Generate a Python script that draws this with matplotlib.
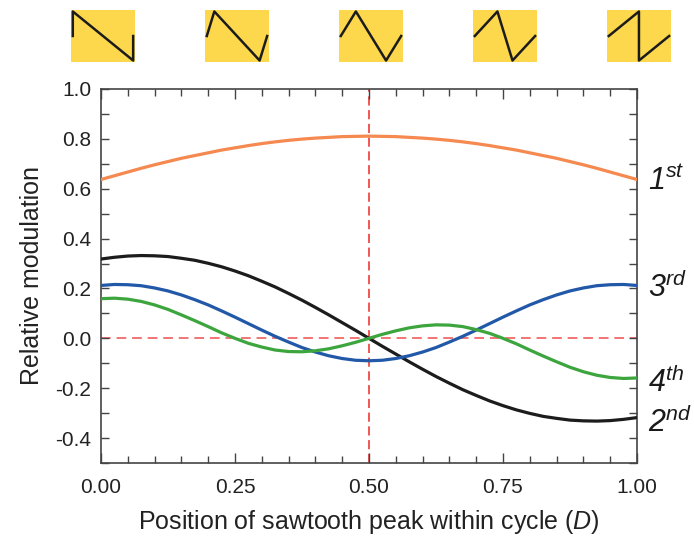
import matplotlib
matplotlib.use("Agg")
import matplotlib.pyplot as plt
from matplotlib.ticker import MultipleLocator, FormatStrFormatter

plt.rcParams['font.family'] = ['Liberation Sans', 'DejaVu Sans']
plt.rcParams['mathtext.fontset'] = 'custom'
plt.rcParams['mathtext.rm'] = 'Liberation Sans:italic'
plt.rcParams['mathtext.it'] = 'Liberation Sans:italic'
plt.rcParams['axes.unicode_minus'] = False

# Position du pic (D) et modulation relative de chaque harmonique
D = [0.000, 0.025, 0.050, 0.075, 0.100, 0.125, 0.150, 0.175, 0.200, 0.225,
     0.250, 0.275, 0.300, 0.325, 0.350, 0.375, 0.400, 0.425, 0.450, 0.475,
     0.500, 0.525, 0.550, 0.575, 0.600, 0.625, 0.650, 0.675, 0.700, 0.725,
     0.750, 0.775, 0.800, 0.825, 0.850, 0.875, 0.900, 0.925, 0.950, 0.975, 1.000]

h1 = [0.637, 0.652, 0.667, 0.682, 0.696, 0.709, 0.722, 0.733, 0.744, 0.755,
      0.764, 0.773, 0.781, 0.788, 0.794, 0.799, 0.803, 0.806, 0.809, 0.810,
      0.811, 0.810, 0.809, 0.806, 0.803, 0.799, 0.794, 0.788, 0.781, 0.773,
      0.764, 0.755, 0.744, 0.733, 0.722, 0.709, 0.696, 0.682, 0.667, 0.652, 0.637]

h2 = [0.318, 0.325, 0.330, 0.332, 0.331, 0.328, 0.321, 0.313, 0.301, 0.287,
      0.270, 0.251, 0.229, 0.206, 0.180, 0.153, 0.124, 0.094, 0.063, 0.032,
      0.000, -0.032, -0.063, -0.094, -0.124, -0.153, -0.180, -0.206, -0.229, -0.251,
      -0.270, -0.287, -0.301, -0.313, -0.321, -0.328, -0.331, -0.332, -0.330, -0.325, -0.318]

h3 = [0.212, 0.216, 0.215, 0.211, 0.202, 0.190, 0.174, 0.155, 0.134, 0.110,
      0.085, 0.059, 0.033, 0.008, -0.015, -0.037, -0.055, -0.070, -0.081, -0.088,
      -0.090, -0.088, -0.081, -0.070, -0.055, -0.037, -0.015, 0.008, 0.033, 0.059,
      0.085, 0.110, 0.134, 0.155, 0.174, 0.190, 0.202, 0.211, 0.215, 0.216, 0.212]

h4 = [0.159, 0.161, 0.157, 0.148, 0.134, 0.116, 0.094, 0.071, 0.047, 0.022,
      0.000, -0.020, -0.035, -0.047, -0.053, -0.054, -0.050, -0.042, -0.030, -0.016,
      0.000, 0.016, 0.030, 0.042, 0.050, 0.054, 0.053, 0.047, 0.035, 0.020,
      0.000, -0.022, -0.047, -0.071, -0.094, -0.116, -0.134, -0.148, -0.157, -0.161, -0.159]

# Etiquettes a droite (texte, position y)
noms = [r'$1^{st}$', r'$3^{rd}$', r'$4^{th}$', r'$2^{nd}$']
noms_y = [0.63, 0.20, -0.18, -0.34]

# Vignettes : position du pic des formes d'onde
D_icones = [0.0, 0.25, 0.5, 0.75, 1.0]

fig = plt.figure(figsize=(6.94, 5.41), dpi=100)
ax = fig.add_axes([0.1455, 0.1442, 0.7723, 0.6913])

ax.axvline(0.5, color='#ee2a24', linestyle=(0, (6, 3)), linewidth=1.1, zorder=1)
ax.axhline(0.0, color='#f27474', linestyle=(0, (5, 3)), linewidth=1.4, zorder=1)

ax.plot(D, h1, color='#f5894f', linewidth=2.3, zorder=3)
ax.plot(D, h2, color='#1c1c1c', linewidth=2.3, zorder=3)
ax.plot(D, h3, color='#2158a8', linewidth=2.3, zorder=3)
ax.plot(D, h4, color='#3da53d', linewidth=2.3, zorder=3)

ax.set_xlim(0, 1)
ax.set_ylim(-0.5, 1.0)
ax.xaxis.set_major_locator(MultipleLocator(0.25))
ax.xaxis.set_minor_locator(MultipleLocator(0.05))
ax.yaxis.set_minor_locator(MultipleLocator(0.1))
ax.set_yticks([-0.4, -0.2, 0.0, 0.2, 0.4, 0.6, 0.8, 1.0])
ax.xaxis.set_major_formatter(FormatStrFormatter('%.2f'))
ax.yaxis.set_major_formatter(FormatStrFormatter('%.1f'))

ax.tick_params(which='both', direction='in', top=True, right=True, color='#444444',
               labelsize=15, labelcolor='#222222', width=1.0)
ax.tick_params(axis='x', which='major', length=7, pad=11)
ax.tick_params(axis='x', which='minor', length=5)
ax.tick_params(axis='y', which='both', length=6, pad=7)
for s in ax.spines.values():
    s.set_color('#444444')
    s.set_linewidth(1.2)

ax.set_xlabel(r'Position of sawtooth peak within cycle ($D$)', fontsize=18,
              color='#222222', labelpad=8)
ax.set_ylabel('Relative modulation', fontsize=18, color='#222222', labelpad=8)

for t, y in zip(noms, noms_y):
    ax.text(1.02, y, t, transform=ax.get_yaxis_transform(), fontsize=22,
            va='center', ha='left', color='#1a1a1a')

# Vignettes jaunes au-dessus du graphique
pos = ax.get_position()
w_ic = 64 / 694
h_ic = 52 / 541
for d in D_icones:
    cx = pos.x0 + d * pos.width + 2 / 694
    iax = fig.add_axes([cx - w_ic / 2, 1 - 62 / 541, w_ic, h_ic])
    iax.set_facecolor('#fed84c')
    iax.plot([0, d / 2, 1 - d / 2, 1], [0, 1, -1, 0], color='#1c1c1c', linewidth=1.8)
    iax.set_xlim(-0.03, 1.03)
    iax.set_ylim(-1.06, 1.06)
    iax.set_xticks([])
    iax.set_yticks([])
    for s in iax.spines.values():
        s.set_visible(False)

fig.savefig('out.png', dpi=100)
